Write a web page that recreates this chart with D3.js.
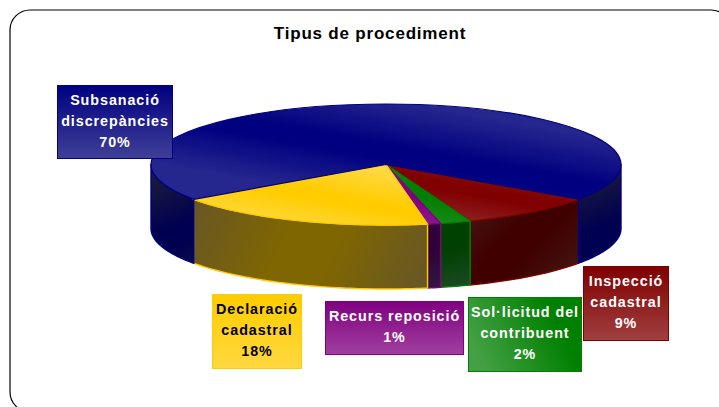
<!DOCTYPE html>
<html><head><meta charset="utf-8">
<script src="https://cdn.jsdelivr.net/npm/d3@7"></script>
<style>html,body{margin:0;padding:0;background:#fff}svg{display:block}text{font-family:"Liberation Sans",Arial,sans-serif;font-weight:bold}</style>
</head><body><svg id="c" width="719" height="407"></svg>
<script>
const title = "Tipus de procediment";
const categories = ["Inspecció cadastral","Sol·licitud del contribuent","Recurs reposició","Declaració cadastral","Subsanació discrepàncies"];
const values = [9.45, 2.1, 0.9, 18.05, 69.5];
const labelLines = [["Inspecció","cadastral"],["Sol·licitud del","contribuent"],["Recurs reposició"],["Declaració","cadastral"],["Subsanació","discrepàncies"]];
const baseColors = ["#800000","#008000","#800080","#ffcc00","#000080"];
const lightTop = ["#8f2222","#1f8f1f","#8f2090","#ffd83f","#26268f"];
const wallMid = ["#400000","#004000","#300038","#806600","#000050"];
const wallEdge = ["#451c18","#1f4a28","#301840","#665628","#181840"];
const labelEnd = ["#a04040","#45a045","#a040a0","#ffd840","#404098"];
const textColors = ["#fff","#fff","#fff","#000","#fff"];
const boxes = [[583,266,86,75],[468,297,114,75],[325,301,139,54],[212,294,90,75],[57,85,116,74]];

(function(){
const svg = d3.select("#c");
const defs = svg.append("defs");
const cx=386, cy=164.5, rx=235, ry=60.5, depth=64;

svg.append("rect").attr("x",10).attr("y",10).attr("width",721).attr("height",402).attr("rx",20)
  .attr("fill","#fff").attr("stroke","#000").attr("stroke-width",1.2);
svg.append("text").attr("x",370).attr("y",39).attr("text-anchor","middle")
  .attr("font-size",17).attr("letter-spacing",0.8).attr("fill","#000").text(title);

const startDeg=125;
const pie = d3.pie().sort(null).startAngle(startDeg*Math.PI/180).endAngle((startDeg+360)*Math.PI/180);
const arcs = pie(values);

function grad(id,x1,y1,x2,y2,stops,tf){
  const g=defs.append("linearGradient").attr("id",id).attr("gradientUnits","userSpaceOnUse")
    .attr("x1",x1).attr("y1",y1).attr("x2",x2).attr("y2",y2);
  if(tf) g.attr("gradientTransform",tf);
  stops.forEach(s=>g.append("stop").attr("offset",s[0]).attr("stop-color",s[1]));
  return `url(#${id})`;
}
const px=a=>cx+rx*Math.sin(a), py=a=>cy-ry*Math.cos(a);
const sampled=(a,b)=>{const n=Math.max(2,Math.ceil((b-a)*60));return d3.range(n+1).map(i=>a+(b-a)*i/n);};

// walls: only the front half of each slice is visible
const front0=Math.PI/2, front1=3*Math.PI/2;
const wall = d3.area().x(a=>px(a)).y0(a=>py(a)).y1(a=>py(a)+depth);
arcs.forEach((d,i)=>{
  const s=d.startAngle,e=d.endAngle;
  [[Math.max(s,front0),Math.min(e,front1)],[Math.max(s,front0+2*Math.PI),Math.min(e,front1+2*Math.PI)]]
  .filter(r=>r[0]<r[1]).forEach((r,k)=>{
    const l=Math.min(px(r[0]),px(r[1])),rr=Math.max(px(r[0]),px(r[1]));
    const fill=grad(`w${i}${k}`,l,cy+20,rr,cy+depth+60,
      [[0,wallEdge[i]],[0.42,wallMid[i]],[0.6,wallMid[i]],[1,wallEdge[i]]]);
    svg.append("path").attr("d",wall(sampled(r[0],r[1]))+"Z").attr("fill",fill)
      .attr("stroke",baseColors[i]).attr("stroke-width",1.4).attr("stroke-linejoin","round");
  });
});
// top face
const arcGen=d3.arc().innerRadius(0).outerRadius(rx);
const topFace=svg.append("g").attr("transform",`translate(${cx},${cy}) scale(1,${ry/rx})`);
const tf=`scale(1,${rx/ry}) translate(${-cx},${-cy})`;
arcs.forEach((d,i)=>{
  const pts=sampled(d.startAngle,d.endAngle);
  const ys=pts.map(py).concat(cy), xs=pts.map(px).concat(cx);
  const mx=(d3.min(xs)+d3.max(xs))/2, my=(d3.min(ys)+d3.max(ys))/2, h=(d3.max(ys)-d3.min(ys))/2+4;
  const fill=grad(`t${i}`,mx+h*0.18,my-h,mx-h*0.18,my+h,
    [[0,lightTop[i]],[0.44,baseColors[i]],[0.56,baseColors[i]],[1,lightTop[i]]],tf);
  topFace.append("path").attr("d",arcGen(d)).attr("fill",fill)
    .attr("stroke",baseColors[i]).attr("stroke-width",1.2).attr("vector-effect","non-scaling-stroke");
});
// labels
arcs.forEach((d,i)=>{
  const b=boxes[i];
  const fill=i==1
    ? grad(`l${i}`,b[0]+b[2]*0.85,b[1]+b[3]*0.55,b[0]+b[2]*0.15,b[1]+b[3]*1.05,[[0,baseColors[i]],[1,labelEnd[i]]])
    : grad(`l${i}`,b[0],b[1],b[0],b[1]+b[3],[[0,baseColors[i]],[1,labelEnd[i]]]);
  const g=svg.append("g");
  g.append("rect").attr("x",b[0]+.5).attr("y",b[1]+.5).attr("width",b[2]-1).attr("height",b[3]-1)
    .attr("fill",fill).attr("stroke",baseColors[i]).attr("stroke-width",1);
  const lines=[...labelLines[i],d3.format(".0f")(values[i])+"%"];
  const lh=21, mid=b[0]+b[2]/2;
  const y0=b[1]+b[3]/2-(lines.length-1)*lh/2+3.6;
  lines.forEach((t,k)=>g.append("text").attr("x",mid).attr("y",y0+k*lh).attr("text-anchor","middle")
    .attr("font-size",14.3).attr("letter-spacing",0.95).attr("fill",textColors[i]).text(t));
});
})();
</script></body></html>
